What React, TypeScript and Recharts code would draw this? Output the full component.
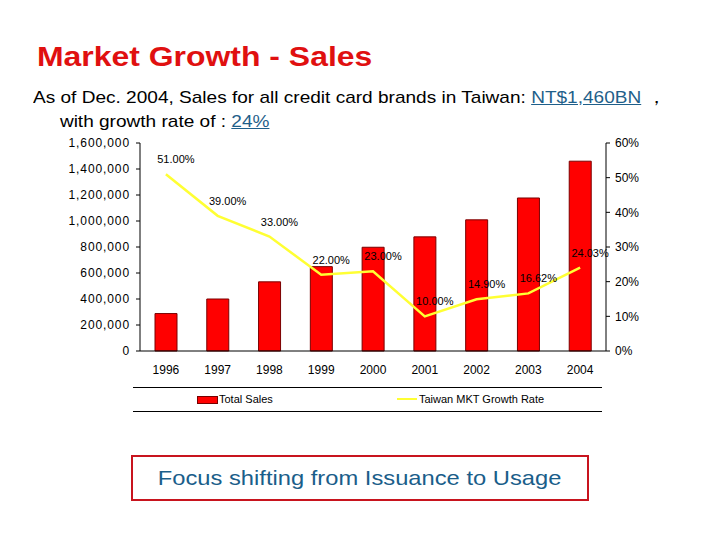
import React from 'react';
import {
  ComposedChart,
  Bar,
  Line,
  XAxis,
  YAxis,
  Legend,
  LabelList,
} from 'recharts';

const years = ['1996', '1997', '1998', '1999', '2000', '2001', '2002', '2003', '2004'];
const totalSales = [288000, 400000, 532000, 649000, 798000, 878000, 1009000, 1177000, 1460000];
const growthRate = [51, 39, 33, 22, 23, 10, 14.9, 16.62, 24.03];
const salesTicks = [0, 200000, 400000, 600000, 800000, 1000000, 1200000, 1400000, 1600000];
const rateTicks = [0, 10, 20, 30, 40, 50, 60];

const data = years.map((y, i) => ({ year: y, sales: totalSales[i], rate: growthRate[i] }));

const FONT = 'Arial, "Liberation Sans", sans-serif';

const RateLabel = (props: any) => {
  const { x, y, value } = props;
  return (
    <text x={x + 10} y={y - 11} textAnchor="middle" fontSize={11} fill="#000" fontFamily={FONT}>
      {value.toFixed(2)}%
    </text>
  );
};

const LegendBox = () => (
  <div
    style={{
      position: 'relative',
      height: 23,
      borderTop: '1px solid #000',
      borderBottom: '1px solid #000',
      fontFamily: FONT,
      fontSize: 11,
    }}
  >
    <span style={{ position: 'absolute', left: 64, top: 8, width: 19, height: 6, background: '#ff0000', border: '1px solid #700' }} />
    <span style={{ position: 'absolute', left: 86, top: 5, color: '#000' }}>Total Sales</span>
    <span style={{ position: 'absolute', left: 264, top: 10, width: 20, height: 2, background: '#ffff33' }} />
    <span style={{ position: 'absolute', left: 286, top: 5, color: '#000' }}>Taiwan MKT Growth Rate</span>
  </div>
);

export default function App() {
  return (
    <div style={{ position: 'absolute', left: 0, top: 0, width: 720, height: 540, background: '#fff', fontFamily: FONT }}>
      <div
        style={{
          position: 'absolute',
          left: 37,
          top: 41,
          fontSize: 28,
          fontWeight: 'bold',
          color: '#e01010',
          transform: 'scaleX(1.14)',
          transformOrigin: 'left top',
          whiteSpace: 'nowrap',
        }}
      >
        Market Growth - Sales
      </div>
      <div
        style={{
          position: 'absolute',
          left: 33,
          top: 86,
          fontSize: 17,
          color: '#000',
          lineHeight: '24px',
          transform: 'scaleX(1.12)',
          transformOrigin: 'left top',
          whiteSpace: 'nowrap',
        }}
      >
        As of Dec. 2004, Sales for all credit card brands in Taiwan:{' '}
        <span style={{ color: '#1f5f8a', textDecoration: 'underline' }}>NT$1,460BN</span> ，
        <br />
        <span style={{ paddingLeft: 24 }}>
          with growth rate of :{' '}
          <span style={{ color: '#1f5f8a', textDecoration: 'underline' }}>24%</span>
        </span>
      </div>

      <div style={{ position: 'absolute', left: 60, top: 133 }}>
        <ComposedChart
          width={594}
          height={279}
          data={data}
          margin={{ top: 10, right: 0, bottom: 0, left: 0 }}
          barCategoryGap={0}
        >
          <XAxis
            dataKey="year"
            height={36}
            axisLine={{ stroke: '#000' }}
            tickLine={false}
            tick={{ fontSize: 12, fill: '#000', fontFamily: FONT }}
            tickMargin={8}
            interval={0}
          />
          <YAxis
            yAxisId="left"
            width={80}
            domain={[0, 1600000]}
            ticks={salesTicks}
            tickFormatter={(v: number) => v.toLocaleString('en-US')}
            axisLine={{ stroke: '#000' }}
            tickLine={{ stroke: '#000' }}
            tickSize={4}
            tick={{ fontSize: 12, fill: '#000', fontFamily: FONT, letterSpacing: 0.9 }}
            tickMargin={6}
          />
          <YAxis
            yAxisId="right"
            orientation="right"
            width={48}
            domain={[0, 60]}
            ticks={rateTicks}
            tickFormatter={(v: number) => `${v}%`}
            axisLine={{ stroke: '#000' }}
            tickLine={{ stroke: '#000' }}
            tickSize={4}
            tick={{ fontSize: 12, fill: '#000', fontFamily: FONT, textAnchor: 'start' }}
            tickMargin={5}
          />
          <Legend verticalAlign="bottom" content={<LegendBox />} wrapperStyle={{ left: 73, width: 469 }} />
          <Bar
            yAxisId="left"
            dataKey="sales"
            name="Total Sales"
            fill="#ff0000"
            stroke="#7a0000"
            strokeWidth={1}
            barSize={22}
            isAnimationActive={false}
          />
          <Line
            yAxisId="right"
            dataKey="rate"
            name="Taiwan MKT Growth Rate"
            type="linear"
            stroke="#ffff33"
            strokeWidth={2.5}
            dot={false}
            isAnimationActive={false}
          >
            <LabelList dataKey="rate" content={<RateLabel />} />
          </Line>
        </ComposedChart>
      </div>

      <div
        style={{
          position: 'absolute',
          left: 131,
          top: 455,
          width: 454,
          height: 42,
          border: '2px solid #c8141e',
          color: '#1a5e8a',
          lineHeight: '42px',
          textAlign: 'center',
        }}
      >
        <span style={{ display: 'inline-block', fontSize: 21, transform: 'scaleX(1.13)' }}>
          Focus shifting from Issuance to Usage
        </span>
      </div>
    </div>
  );
}
